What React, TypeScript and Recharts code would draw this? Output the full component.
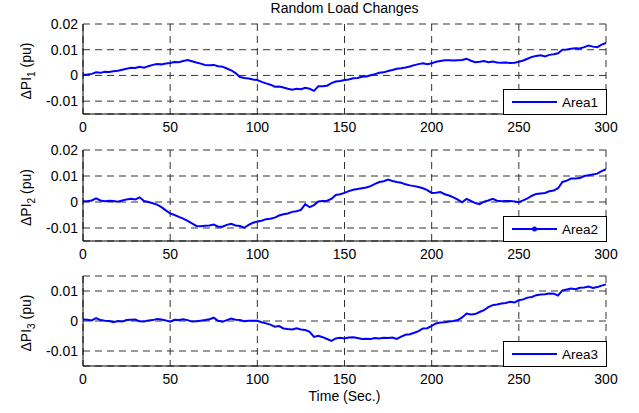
import React from 'react';
import { LineChart, Line, XAxis, YAxis, CartesianGrid, Legend } from 'recharts';

const FONT = '"Liberation Sans", Arial, Helvetica, sans-serif';

// sample times, 2.5 s apart
const times = Array.from({ length: 121 }, (_, i) => i * 2.5);

const area1 = [
  0.0003, 0.0004, 0.0006, 0.0012, 0.0010, 0.0014, 0.0013, 0.0016, 0.0018, 0.0022,
  0.0026, 0.0030, 0.0029, 0.0034, 0.0030, 0.0036, 0.0041, 0.0044, 0.0043, 0.0046,
  0.0048, 0.0052, 0.0051, 0.0056, 0.0060, 0.0055, 0.0050, 0.0046, 0.0041, 0.0040,
  0.0041, 0.0036, 0.0034, 0.0027, 0.0020, 0.0009, -0.0006, -0.0010, -0.0012, -0.0016,
  -0.0018, -0.0025, -0.0031, -0.0036, -0.0044, -0.0043, -0.0047, -0.0052, -0.0056, -0.0052,
  -0.0054, -0.0048, -0.0052, -0.0060, -0.0042, -0.0042, -0.0040, -0.0030, -0.0024, -0.0022,
  -0.0018, -0.0016, -0.0011, -0.0010, -0.0005, -0.0004, 0.0001, 0.0005, 0.0010, 0.0012,
  0.0017, 0.0021, 0.0026, 0.0028, 0.0031, 0.0035, 0.0040, 0.0044, 0.0047, 0.0044,
  0.0047, 0.0053, 0.0056, 0.0059, 0.0059, 0.0058, 0.0059, 0.0060, 0.0065, 0.0057,
  0.0051, 0.0053, 0.0056, 0.0051, 0.0054, 0.0050, 0.0049, 0.0050, 0.0048, 0.0049,
  0.0053, 0.0058, 0.0065, 0.0072, 0.0076, 0.0078, 0.0074, 0.0080, 0.0082, 0.0086,
  0.0100, 0.0101, 0.0104, 0.0106, 0.0105, 0.0110, 0.0116, 0.0112, 0.0110, 0.0120,
  0.0126,
];

const area2 = [
  0.0003, 0.0003, 0.0006, 0.0014, 0.0006, 0.0003, 0.0005, 0.0004, 0.0001, 0.0006,
  0.0010, 0.0012, 0.0010, 0.0018, 0.0004, 0.0000, -0.0005, -0.0010, -0.0020, -0.0032,
  -0.0044, -0.0050, -0.0057, -0.0064, -0.0073, -0.0082, -0.0092, -0.0093, -0.0091, -0.0090,
  -0.0087, -0.0095, -0.0095, -0.0088, -0.0084, -0.0090, -0.0092, -0.0099, -0.0088, -0.0080,
  -0.0075, -0.0072, -0.0066, -0.0064, -0.0060, -0.0052, -0.0047, -0.0044, -0.0038, -0.0036,
  -0.0030, -0.0008, -0.0020, -0.0012, 0.0002, 0.0004, 0.0005, 0.0012, 0.0027, 0.0030,
  0.0035, 0.0042, 0.0047, 0.0050, 0.0053, 0.0056, 0.0061, 0.0070, 0.0077, 0.0080,
  0.0086, 0.0081, 0.0077, 0.0074, 0.0068, 0.0064, 0.0061, 0.0058, 0.0053, 0.0046,
  0.0035, 0.0036, 0.0038, 0.0030, 0.0025, 0.0018, 0.0009, -0.0001, 0.0012, 0.0004,
  -0.0004, -0.0008, 0.0001, 0.0006, 0.0012, 0.0005, 0.0003, 0.0004, 0.0004, 0.0002,
  -0.0001, 0.0006, 0.0014, 0.0024, 0.0031, 0.0033, 0.0035, 0.0041, 0.0044, 0.0053,
  0.0077, 0.0082, 0.0090, 0.0090, 0.0092, 0.0100, 0.0103, 0.0106, 0.0109, 0.0119,
  0.0126,
];

const area3 = [
  0.0005, 0.0004, 0.0002, 0.0010, 0.0003, 0.0001, 0.0000, -0.0004, 0.0000, -0.0002,
  0.0003, 0.0004, 0.0005, -0.0001, -0.0002, 0.0002, 0.0003, 0.0007, 0.0005, 0.0002,
  -0.0002, 0.0004, 0.0003, 0.0006, 0.0003, -0.0002, -0.0001, 0.0001, 0.0003, 0.0006,
  0.0011, 0.0001, -0.0002, 0.0003, 0.0008, 0.0004, 0.0003, -0.0001, 0.0001, 0.0001,
  0.0001, -0.0004, -0.0008, -0.0012, -0.0019, -0.0017, -0.0025, -0.0027, -0.0028, -0.0024,
  -0.0028, -0.0030, -0.0036, -0.0053, -0.0049, -0.0054, -0.0060, -0.0066, -0.0058, -0.0056,
  -0.0058, -0.0055, -0.0054, -0.0057, -0.0060, -0.0059, -0.0060, -0.0057, -0.0058, -0.0056,
  -0.0057, -0.0055, -0.0060, -0.0052, -0.0046, -0.0044, -0.0039, -0.0034, -0.0025, -0.0024,
  -0.0016, -0.0008, -0.0005, -0.0004, -0.0002, 0.0000, 0.0003, 0.0012, 0.0025, 0.0022,
  0.0023, 0.0030, 0.0036, 0.0046, 0.0053, 0.0055, 0.0058, 0.0060, 0.0064, 0.0062,
  0.0069, 0.0072, 0.0078, 0.0080, 0.0086, 0.0088, 0.0089, 0.0092, 0.0091, 0.0085,
  0.0102, 0.0105, 0.0108, 0.0106, 0.0111, 0.0112, 0.0115, 0.0110, 0.0113, 0.0118,
  0.0122,
];

const xTicks = [0, 50, 100, 150, 200, 250, 300];
const yTicksWide = [-0.01, 0, 0.01, 0.02];
const yTicksNarrow = [-0.01, 0, 0.01];

const tickStyle = { fill: '#000', fontSize: 14, fontFamily: FONT };

interface PanelProps {
  values: number[];
  name: string;
  index: number;
  plotTop: number;
  plotHeight: number;
  domain: [number, number];
  yTicks: number[];
  dot?: boolean;
}

const LegendBox = ({ name, dot }: { name: string; dot?: boolean }) => (
  <svg width={104} height={26} style={{ display: 'block' }}>
    <rect x={0.5} y={0.5} width={103} height={25} fill="#fff" stroke="#000" />
    <line x1={9} y1={13} x2={54} y2={13} stroke="#0000ff" strokeWidth={2} />
    {dot && <circle cx={31.5} cy={13} r={2.5} fill="#0000ff" />}
    <text x={59} y={18} fontSize={13.5} fontFamily={FONT} fill="#000">{name}</text>
  </svg>
);

const Panel = ({ values, name, index, plotTop, plotHeight, domain, yTicks, dot }: PanelProps) => {
  const rows = times.map((t, i) => ({ t, v: values[i] }));
  const yLabel = (props: any) => {
    const vb = props.viewBox;
    const cy = vb.y + vb.height / 2 + 2;
    return (
      <text
        x={31}
        y={cy}
        transform={`rotate(-90, 31, ${cy})`}
        textAnchor="middle"
        fontSize={14}
        fontFamily={FONT}
        fill="#000"
      >
        ΔPI<tspan fontSize={10} dy={4}>{index}</tspan>
        <tspan dy={-4}> (pu)</tspan>
      </text>
    );
  };
  return (
    <div style={{ position: 'absolute', left: 0, top: plotTop - 10 }}>
      <LineChart
        width={639}
        height={plotHeight + 40}
        data={rows}
        margin={{ top: 10, right: 33, bottom: 0, left: 0 }}
      >
        <CartesianGrid stroke="#333" strokeDasharray="7 5" />
        <XAxis
          dataKey="t"
          type="number"
          domain={[0, 300]}
          ticks={xTicks}
          interval={0}
          height={30}
          tickLine={false}
          tickSize={0}
          tickMargin={8}
          axisLine={{ stroke: '#000' }}
          tick={tickStyle}
        />
        <XAxis
          xAxisId="top"
          orientation="top"
          type="number"
          domain={[0, 300]}
          height={0}
          tick={false}
          tickLine={false}
          axisLine={{ stroke: '#000' }}
        />
        <YAxis
          type="number"
          domain={domain}
          ticks={yTicks}
          interval={0}
          width={83}
          allowDataOverflow
          tickLine={false}
          tickSize={0}
          tickMargin={5}
          axisLine={{ stroke: '#000' }}
          tick={tickStyle}
          label={{ content: yLabel }}
        />
        <YAxis
          yAxisId="right"
          orientation="right"
          type="number"
          domain={domain}
          width={0}
          tick={false}
          tickLine={false}
          axisLine={{ stroke: '#000' }}
        />
        <Legend
          layout="vertical"
          align="center"
          verticalAlign="middle"
          content={() => <LegendBox name={name} dot={dot} />}
          wrapperStyle={{ position: 'absolute', left: 503, top: 10 + plotHeight - 25, width: 104, height: 26 }}
        />
        <Line
          type="linear"
          dataKey="v"
          name={name}
          stroke="#0000ff"
          strokeWidth={2}
          dot={false}
          isAnimationActive={false}
        />
      </LineChart>
    </div>
  );
};

export default function App() {
  return (
    <div style={{ position: 'absolute', left: 0, top: 0, width: 639, height: 413, background: '#fff', fontFamily: FONT }}>
      <div style={{ position: 'absolute', left: 83, top: 1, width: 523, textAlign: 'center', fontSize: 14, lineHeight: '14px' }}>
        Random Load Changes
      </div>
      <Panel values={area1} name="Area1" index={1} plotTop={24} plotHeight={90} domain={[-0.015, 0.02]} yTicks={yTicksWide} />
      <Panel values={area2} name="Area2" index={2} plotTop={150} plotHeight={91} domain={[-0.015, 0.02]} yTicks={yTicksWide} dot />
      <Panel values={area3} name="Area3" index={3} plotTop={276} plotHeight={90} domain={[-0.015, 0.015]} yTicks={yTicksNarrow} />
      <div style={{ position: 'absolute', left: 83, top: 389, width: 523, textAlign: 'center', fontSize: 14, lineHeight: '14px' }}>
        Time (Sec.)
      </div>
    </div>
  );
}
